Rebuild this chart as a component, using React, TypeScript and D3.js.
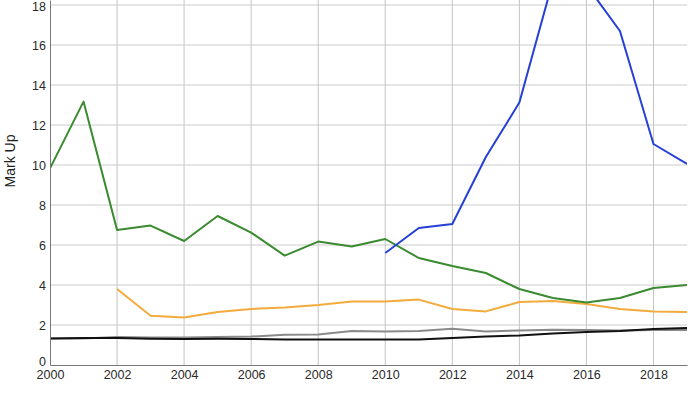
import React, { useEffect, useRef } from 'react';
import * as d3 from 'd3';

// years on the x axis
const years = d3.range(2000, 2020);
const xTicks = [2000, 2002, 2004, 2006, 2008, 2010, 2012, 2014, 2016, 2018];
const yTicks = [0, 2, 4, 6, 8, 10, 12, 14, 16, 18];

// series values, null where a series has no data
const green = [9.83, 13.17, 6.75, 6.97, 6.2, 7.45, 6.62, 5.47, 6.17, 5.92, 6.3, 5.35, 4.95, 4.6, 3.8, 3.35, 3.12, 3.35, 3.85, 4.0];
const blue = [null, null, null, null, null, null, null, null, null, null, 5.6, 6.85, 7.05, 10.4, 13.12, 19.2, 19.0, 16.7, 11.05, 10.05];
const orange = [null, null, 3.8, 2.46, 2.38, 2.65, 2.8, 2.88, 3.0, 3.17, 3.18, 3.27, 2.8, 2.68, 3.15, 3.2, 3.05, 2.8, 2.68, 2.65];
const gray = [1.33, 1.33, 1.4, 1.38, 1.37, 1.4, 1.42, 1.51, 1.52, 1.7, 1.67, 1.7, 1.81, 1.68, 1.72, 1.76, 1.75, 1.72, 1.75, 1.75];
const black = [1.33, 1.35, 1.35, 1.31, 1.3, 1.31, 1.3, 1.28, 1.27, 1.27, 1.27, 1.27, 1.35, 1.42, 1.48, 1.58, 1.65, 1.7, 1.8, 1.85];

const series = [
  { name: 'gray', values: gray, color: '#8a8a8a' },
  { name: 'black', values: black, color: '#111111' },
  { name: 'orange', values: orange, color: '#f2ab3c' },
  { name: 'green', values: green, color: '#3a8a30' },
  { name: 'blue', values: blue, color: '#2540d6' },
];

const App = () => {
  const ref = useRef<SVGSVGElement | null>(null);

  useEffect(() => {
    const width = 700,
      height = 394;
    const margin = { top: 0, right: 13, bottom: 29, left: 50 };

    const svg = d3.select(ref.current);
    svg.selectAll('*').remove();

    const x = d3
      .scaleLinear()
      .domain([2000, 2019])
      .range([margin.left, width - margin.right]);
    const y = d3
      .scaleLinear()
      .domain([0, 18.25])
      .range([height - margin.bottom, margin.top]);

    svg
      .append('defs')
      .append('clipPath')
      .attr('id', 'plot-clip')
      .append('rect')
      .attr('x', margin.left)
      .attr('y', margin.top)
      .attr('width', width - margin.left - margin.right)
      .attr('height', height - margin.top - margin.bottom);

    // grid lines
    const grid = svg.append('g');
    grid
      .selectAll('line.h')
      .data(yTicks.filter(d => d > 0))
      .enter()
      .append('line')
      .attr('x1', margin.left)
      .attr('x2', width - margin.right)
      .attr('y1', d => y(d))
      .attr('y2', d => y(d))
      .style('stroke', '#cccccc')
      .style('stroke-width', 1);
    grid
      .selectAll('line.v')
      .data(xTicks.filter(d => d > 2000))
      .enter()
      .append('line')
      .attr('x1', d => x(d))
      .attr('x2', d => x(d))
      .attr('y1', margin.top)
      .attr('y2', height - margin.bottom)
      .style('stroke', '#c4c4c4')
      .style('stroke-width', 1);

    // lines
    const line = d3
      .line<number | null>()
      .defined(d => d !== null)
      .x((d, i) => x(years[i]))
      .y(d => y(d as number));

    const plot = svg.append('g').attr('clip-path', 'url(#plot-clip)');
    series.forEach(s => {
      plot
        .append('path')
        .attr('d', line(s.values))
        .style('fill', 'none')
        .style('stroke', s.color)
        .style('stroke-width', 2)
        .style('stroke-linejoin', 'round');
    });

    // axes
    const font = 'Liberation Sans, Arial, sans-serif';
    const xAxis = svg
      .append('g')
      .attr('transform', `translate(0,${height - margin.bottom})`)
      .call(d3.axisBottom(x).tickValues(xTicks).tickFormat(d3.format('d')).tickSize(0).tickPadding(5));
    xAxis.select('.domain').style('stroke', '#777777');
    xAxis.selectAll('text').style('font-family', font).style('font-size', '12.5px').style('fill', '#2a2a2a');

    const yAxis = svg
      .append('g')
      .attr('transform', `translate(${margin.left},0)`)
      .call(d3.axisLeft(y).tickValues(yTicks).tickSize(0).tickPadding(4));
    yAxis.select('.domain').style('stroke', '#777777');
    yAxis
      .selectAll('text')
      .attr('dy', (d: any) => (d === 0 ? '0.05em' : d === 18 ? '0.45em' : '0.32em'))
      .style('font-family', font)
      .style('font-size', '12.5px')
      .style('fill', '#2a2a2a');

    svg
      .append('text')
      .attr('transform', `translate(10,161) rotate(-90)`)
      .attr('text-anchor', 'middle')
      .attr('dy', '0.35em')
      .style('font-family', font)
      .style('font-size', '14px')
      .style('fill', '#222')
      .text('Mark Up');
  }, []);

  return (
    <svg
      ref={ref}
      width={700}
      height={394}
      style={{ position: 'absolute', left: 0, top: 0, background: '#fff' }}
    />
  );
};

export default App;
